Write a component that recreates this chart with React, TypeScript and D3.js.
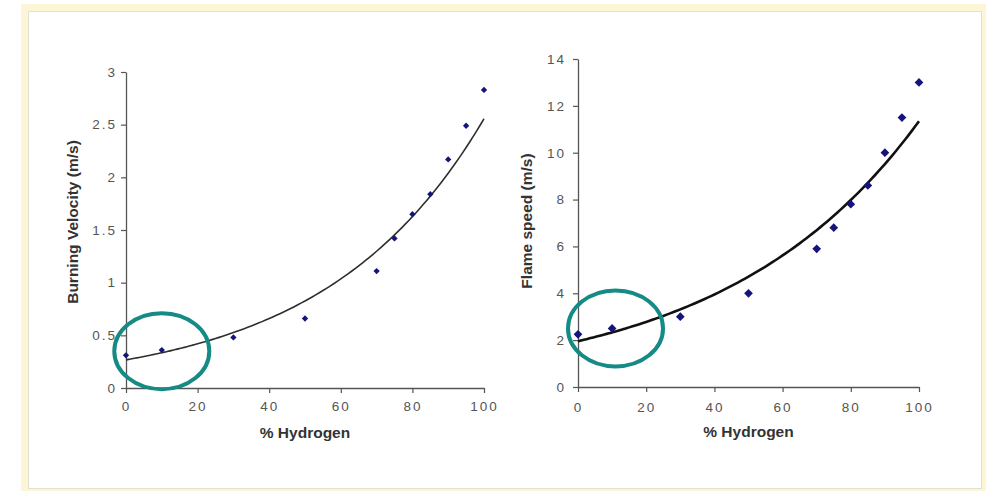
import React, { useEffect, useRef } from 'react';
import * as d3 from 'd3';

// % hydrogen in the fuel blend (same for both panels)
const hydrogen = [0, 10, 30, 50, 70, 75, 80, 85, 90, 95, 100];
// left panel: burning velocity (m/s)
const burningVelocity = [0.31, 0.36, 0.48, 0.66, 1.11, 1.42, 1.65, 1.84, 2.17, 2.49, 2.83];
// right panel: flame speed (m/s)
const flameSpeed = [2.25, 2.5, 3.0, 4.0, 5.9, 6.8, 7.8, 8.6, 10.0, 11.5, 13.0];

const xTicks = [0, 20, 40, 60, 80, 100];
const leftYTicks = [0, 0.5, 1, 1.5, 2, 2.5, 3];
const rightYTicks = [0, 2, 4, 6, 8, 10, 12, 14];

// highlighted region (data coords) for the teal ellipses
const leftHighlight = { x: 10, y: 0.35 };
const rightHighlight = { x: 11, y: 2.5 };

// exponential trendline, least squares on ln(y) like Excel
function expFit(xs: number[], ys: number[]) {
  const ly = ys.map(Math.log);
  const mx = d3.mean(xs)!;
  const my = d3.mean(ly)!;
  let sxy = 0, sxx = 0;
  xs.forEach((x, i) => {
    sxy += (x - mx) * (ly[i] - my);
    sxx += (x - mx) * (x - mx);
  });
  const b = sxy / sxx;
  const a = Math.exp(my - b * mx);
  return (x: number) => a * Math.exp(b * x);
}

type Panel = {
  values: number[];
  yTicks: number[];
  yMax: number;
  yLabel: string;
  x0: number; x1: number; y0: number; y1: number;
  labelX: number;
  labelY: number;
  tickPadY: number;
  tickPadX: number;
  markerArea: number;
  curveColor: string;
  curveWidth: number;
  highlight: { x: number; y: number };
};

const FONT = 'Liberation Sans, Arial, sans-serif';

const App = () => {
  const svgRef = useRef<SVGSVGElement>(null);

  useEffect(() => {
    const svg = d3.select(svgRef.current);
    svg.selectAll('*').remove();

    // page frame
    svg.append('rect').attr('x', 21).attr('y', 4).attr('width', 965).attr('height', 487)
      .attr('fill', '#fcf6d6');
    svg.append('rect').attr('x', 28.5).attr('y', 11.5).attr('width', 953).attr('height', 477)
      .attr('fill', '#ffffff').attr('stroke', '#e2e0d4').attr('stroke-width', 1);

    const panels: Panel[] = [
      {
        values: burningVelocity, yTicks: leftYTicks, yMax: 3, yLabel: 'Burning Velocity (m/s)',
        x0: 126, x1: 484, y0: 388, y1: 72, labelX: 73, labelY: 222, tickPadY: 4, tickPadX: 8,
        markerArea: 20, curveColor: '#2e2e2e', curveWidth: 1.6, highlight: leftHighlight,
      },
      {
        values: flameSpeed, yTicks: rightYTicks, yMax: 14, yLabel: 'Flame speed (m/s)',
        x0: 578, x1: 919, y0: 387, y1: 59, labelX: 527, labelY: 221, tickPadY: 7, tickPadX: 10,
        markerArea: 38, curveColor: '#111111', curveWidth: 2.6, highlight: rightHighlight,
      },
    ];

    panels.forEach(p => {
      const x = d3.scaleLinear().domain([0, 100]).range([p.x0, p.x1]);
      const y = d3.scaleLinear().domain([0, p.yMax]).range([p.y0, p.y1]);
      const g = svg.append('g');

      const yAxis = g.append('g')
        .attr('transform', `translate(${p.x0},0)`)
        .call(d3.axisLeft(y).tickValues(p.yTicks).tickSize(5).tickPadding(p.tickPadY)
          .tickFormat(d => String(d)).tickSizeOuter(0));
      const xAxis = g.append('g')
        .attr('transform', `translate(0,${p.y0})`)
        .call(d3.axisBottom(x).tickValues(xTicks).tickSize(5).tickPadding(p.tickPadX).tickSizeOuter(0));

      [xAxis, yAxis].forEach(ax => {
        ax.select('.domain').attr('stroke', '#555').attr('stroke-width', 1.3);
        ax.selectAll('.tick line').attr('stroke', '#555').attr('stroke-width', 1.2);
        ax.selectAll('.tick text')
          .attr('fill', '#555')
          .attr('font-family', FONT)
          .attr('font-size', 13.5)
          .attr('letter-spacing', 2);
      });

      // axis titles
      g.append('text')
        .attr('x', (p.x0 + p.x1) / 2).attr('y', p.y0 + 50)
        .attr('text-anchor', 'middle')
        .attr('font-family', FONT)
        .attr('font-weight', 'bold').attr('font-size', 15.5).attr('fill', '#333')
        .text('% Hydrogen');
      g.append('text')
        .attr('transform', `translate(${p.labelX},${p.labelY}) rotate(-90)`)
        .attr('text-anchor', 'middle').attr('dy', '0.35em')
        .attr('font-family', FONT)
        .attr('font-weight', 'bold').attr('font-size', 15.5).attr('fill', '#333')
        .text(p.yLabel);

      // trendline
      const fit = expFit(hydrogen, p.values);
      const line = d3.line<number>().x(d => x(d)).y(d => y(fit(d))).curve(d3.curveMonotoneX);
      g.append('path')
        .datum(d3.range(0, 100.5, 1))
        .attr('d', line)
        .attr('fill', 'none')
        .attr('stroke', p.curveColor)
        .attr('stroke-width', p.curveWidth);

      // data markers
      g.selectAll('.pt')
        .data(hydrogen.map((h, i) => [h, p.values[i]]))
        .enter().append('path')
        .attr('d', d3.symbol(d3.symbolSquare, p.markerArea)())
        .attr('transform', d => `translate(${x(d[0])},${y(d[1])}) rotate(45)`)
        .attr('fill', '#14147a');

      // teal highlight ellipse
      g.append('ellipse')
        .attr('cx', x(p.highlight.x)).attr('cy', y(p.highlight.y))
        .attr('rx', 47.5).attr('ry', 38)
        .attr('fill', 'none')
        .attr('stroke', '#168a85')
        .attr('stroke-width', 4);
    });
  }, []);

  return (
    <svg ref={svgRef} width={987} height={492}
      style={{ position: 'absolute', left: 0, top: 0, display: 'block' }} />
  );
};

export default App;
